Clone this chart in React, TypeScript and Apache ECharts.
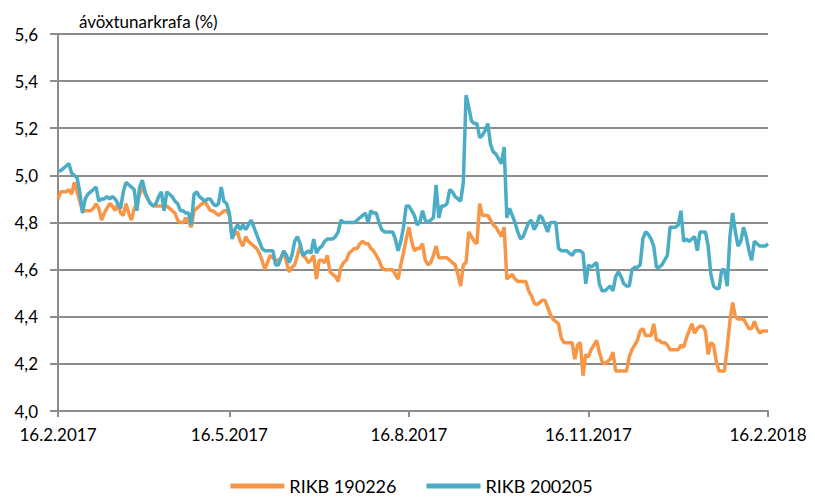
import React, { useEffect, useRef } from "react";
import * as echarts from "echarts";

const TITLE = "ávöxtunarkrafa (%)";
const SERIES_NAMES = ["RIKB 190226", "RIKB 200205"];
const TICK_LABELS = ["16.2.2017", "16.5.2017", "16.8.2017", "16.11.2017", "16.2.2018"];
const START_DATE = "2017-02-16";
const END_DATE = "2018-02-16";

// RIKB 190226 (business days), split by quarter
const rikb19_q1 = [
  4.90,4.93,4.93,4.93,4.94,4.92,4.97,4.93,4.89,4.85,
  4.85,4.85,4.85,4.86,4.88,4.86,4.81,4.84,4.86,4.88,
  4.87,4.85,4.88,4.84,4.83,4.88,4.84,4.81,4.86,4.88,
  4.92,4.95,4.92,4.90,4.88,4.87,4.87,4.87,4.87,4.87,
  4.87,4.86,4.85,4.84,4.81,4.80,4.80,4.82,4.80,4.78,
  4.85,4.86,4.87,4.88,4.89,4.87,4.85,4.85,4.84,4.83,
  4.84,4.85,4.85,4.83,4.74,4.75,
];
const rikb19_q2 = [
  4.76,4.72,4.70,4.74,
  4.72,4.71,4.70,4.69,4.67,4.64,4.60,4.63,4.66,4.65,
  4.64,4.64,4.65,4.68,4.63,4.59,4.61,4.62,4.66,4.70,
  4.66,4.65,4.63,4.64,4.66,4.56,4.64,4.64,4.63,4.66,
  4.59,4.58,4.57,4.55,4.61,4.63,4.64,4.67,4.68,4.69,
  4.69,4.71,4.72,4.71,4.71,4.69,4.68,4.66,4.64,4.61,
  4.60,4.60,4.60,4.60,4.58,4.56,4.62,4.67,4.73,4.78,
];
const rikb19_q3 = [
  4.72,4.68,4.69,4.69,4.71,4.64,4.62,4.63,4.66,4.70,
  4.65,4.65,4.65,4.65,4.64,4.63,4.62,4.58,4.53,4.62,
  4.63,4.76,4.74,4.72,4.71,4.88,4.83,4.83,4.83,4.81,
  4.79,4.78,4.76,4.74,4.78,4.56,4.57,4.58,4.56,4.55,
  4.55,4.55,4.55,4.51,4.49,4.46,4.45,4.46,4.47,4.47,
  4.44,4.41,4.39,4.38,4.37,4.31,4.29,4.29,4.29,4.29,
  4.22,4.28,4.29,4.15,4.24,
];
const rikb19_q4 = [
  4.23,4.26,4.28,4.30,4.25,
  4.21,4.20,4.21,4.22,4.25,4.17,4.17,4.17,4.17,4.17,
  4.23,4.26,4.28,4.30,4.34,4.35,4.32,4.32,4.32,4.37,
  4.30,4.30,4.29,4.29,4.28,4.26,4.26,4.26,4.26,4.28,
  4.27,4.31,4.34,4.37,4.33,4.35,4.36,4.36,4.34,4.24,
  4.29,4.28,4.21,4.17,4.17,4.17,4.27,4.38,4.46,4.40,
  4.39,4.39,4.39,4.37,4.35,4.35,4.38,4.35,4.33,4.34,
  4.34,4.34,
];

// RIKB 200205 (business days), split by quarter
const rikb20_q1 = [
  5.02,5.02,5.03,5.04,5.05,5.01,5.00,4.99,4.93,4.84,
  4.90,4.92,4.93,4.94,4.95,4.89,4.90,4.90,4.91,4.90,
  4.91,4.90,4.88,4.86,4.93,4.97,4.96,4.95,4.94,4.85,
  4.95,4.98,4.93,4.90,4.88,4.87,4.88,4.91,4.93,4.85,
  4.93,4.92,4.91,4.89,4.88,4.85,4.85,4.84,4.84,4.79,
  4.92,4.93,4.91,4.90,4.89,4.90,4.90,4.88,4.87,4.88,
  4.95,4.89,4.88,4.84,4.73,4.77,
];
const rikb20_q2 = [
  4.79,4.77,4.79,4.77,
  4.79,4.81,4.78,4.75,4.72,4.69,4.68,4.68,4.68,4.68,
  4.62,4.62,4.65,4.68,4.66,4.63,4.66,4.72,4.74,4.71,
  4.66,4.67,4.68,4.67,4.73,4.67,4.69,4.70,4.72,4.73,
  4.73,4.73,4.74,4.76,4.81,4.80,4.80,4.80,4.80,4.80,
  4.81,4.82,4.83,4.84,4.80,4.85,4.84,4.84,4.80,4.77,
  4.76,4.76,4.76,4.76,4.73,4.68,4.72,4.78,4.87,4.87,
];
const rikb20_q3 = [
  4.85,4.83,4.79,4.80,4.85,4.81,4.80,4.81,4.82,4.96,
  4.82,4.87,4.87,4.88,4.94,4.93,4.91,4.90,4.89,4.97,
  5.34,5.29,5.23,5.22,5.22,5.16,5.17,5.19,5.22,5.13,
  5.10,5.09,5.07,5.05,5.12,4.82,4.86,4.83,4.80,4.76,
  4.73,4.74,4.77,4.80,4.81,4.77,4.79,4.83,4.82,4.79,
  4.76,4.80,4.80,4.80,4.69,4.68,4.68,4.68,4.67,4.66,
  4.68,4.68,4.68,4.67,4.54,
];
const rikb20_q4 = [
  4.62,4.61,4.62,4.63,4.54,
  4.51,4.51,4.52,4.53,4.51,4.57,4.59,4.57,4.54,4.53,
  4.53,4.60,4.61,4.61,4.62,4.73,4.76,4.75,4.73,4.70,
  4.61,4.61,4.62,4.64,4.66,4.78,4.78,4.78,4.79,4.85,
  4.72,4.73,4.72,4.73,4.74,4.68,4.76,4.76,4.76,4.70,
  4.58,4.53,4.52,4.52,4.60,4.60,4.53,4.74,4.84,4.76,
  4.70,4.72,4.78,4.74,4.68,4.64,4.72,4.71,4.70,4.70,
  4.70,4.71,
];

const COLORS = ["#F79646", "#4BACC6"];
const FONT = "Lato, 'Noto Sans', sans-serif";

function businessDays(start: string, end: string): string[] {
  const out: string[] = [];
  const d = new Date(start + "T00:00:00Z");
  const e = new Date(end + "T00:00:00Z");
  while (d.getTime() <= e.getTime()) {
    const wd = d.getUTCDay();
    if (wd !== 0 && wd !== 6) {
      out.push(`${d.getUTCDate()}.${d.getUTCMonth() + 1}.${d.getUTCFullYear()}`);
    }
    d.setUTCDate(d.getUTCDate() + 1);
  }
  return out;
}

export default function App() {
  const ref = useRef<HTMLDivElement>(null);
  useEffect(() => {
    if (!ref.current) return;
    const chart = echarts.init(ref.current, undefined, { renderer: "svg" });
    const categories = businessDays(START_DATE, END_DATE);
    const s1 = [...rikb19_q1, ...rikb19_q2, ...rikb19_q3, ...rikb19_q4];
    const s2 = [...rikb20_q1, ...rikb20_q2, ...rikb20_q3, ...rikb20_q4];
    const showTick = (_i: number, v: string) => TICK_LABELS.includes(v);
    chart.setOption({
      animation: false,
      textStyle: { fontFamily: FONT },
      title: {
        text: TITLE,
        left: 66,
        top: 0,
        textStyle: { fontSize: 17, fontWeight: "normal", color: "#000", fontFamily: FONT },
      },
      grid: { left: 50, right: 47, top: 26, bottom: 91, containLabel: false },
      legend: {
        bottom: 2,
        left: "center",
        icon: "rect",
        itemWidth: 54,
        itemHeight: 5,
        itemGap: 30,
        textStyle: { fontSize: 18, color: "#000", fontFamily: FONT },
        data: SERIES_NAMES,
      },
      xAxis: {
        type: "category",
        data: categories,
        boundaryGap: false,
        axisLine: { lineStyle: { color: "#8c8c8c", width: 2 } },
        axisTick: { show: true, interval: showTick, length: 6, lineStyle: { color: "#8c8c8c", width: 2 } },
        axisLabel: { interval: showTick, fontSize: 17, color: "#000", margin: 15, fontFamily: FONT },
        splitLine: { show: false },
      },
      yAxis: {
        type: "value",
        min: 4.0,
        max: 5.6,
        interval: 0.2,
        axisLine: { show: true, lineStyle: { color: "#8c8c8c", width: 2 } },
        axisTick: { show: true, length: 8, lineStyle: { color: "#8c8c8c", width: 2 } },
        axisLabel: {
          fontSize: 17,
          color: "#000",
          margin: 20,
          fontFamily: FONT,
          formatter: (v: number) => v.toFixed(1).replace(".", ","),
        },
        splitLine: { lineStyle: { color: "#8c8c8c", width: 2 } },
      },
      series: [
        {
          name: SERIES_NAMES[0],
          type: "line",
          data: s1,
          showSymbol: false,
          symbol: "none",
          lineStyle: { color: COLORS[0], width: 3.5 },
          itemStyle: { color: COLORS[0] },
        },
        {
          name: SERIES_NAMES[1],
          type: "line",
          data: s2,
          showSymbol: false,
          symbol: "none",
          lineStyle: { color: COLORS[1], width: 3.5 },
          itemStyle: { color: COLORS[1] },
        },
      ],
    });
    return () => chart.dispose();
  }, []);
  return <div ref={ref} style={{ width: 807, height: 494 }} />;
}
